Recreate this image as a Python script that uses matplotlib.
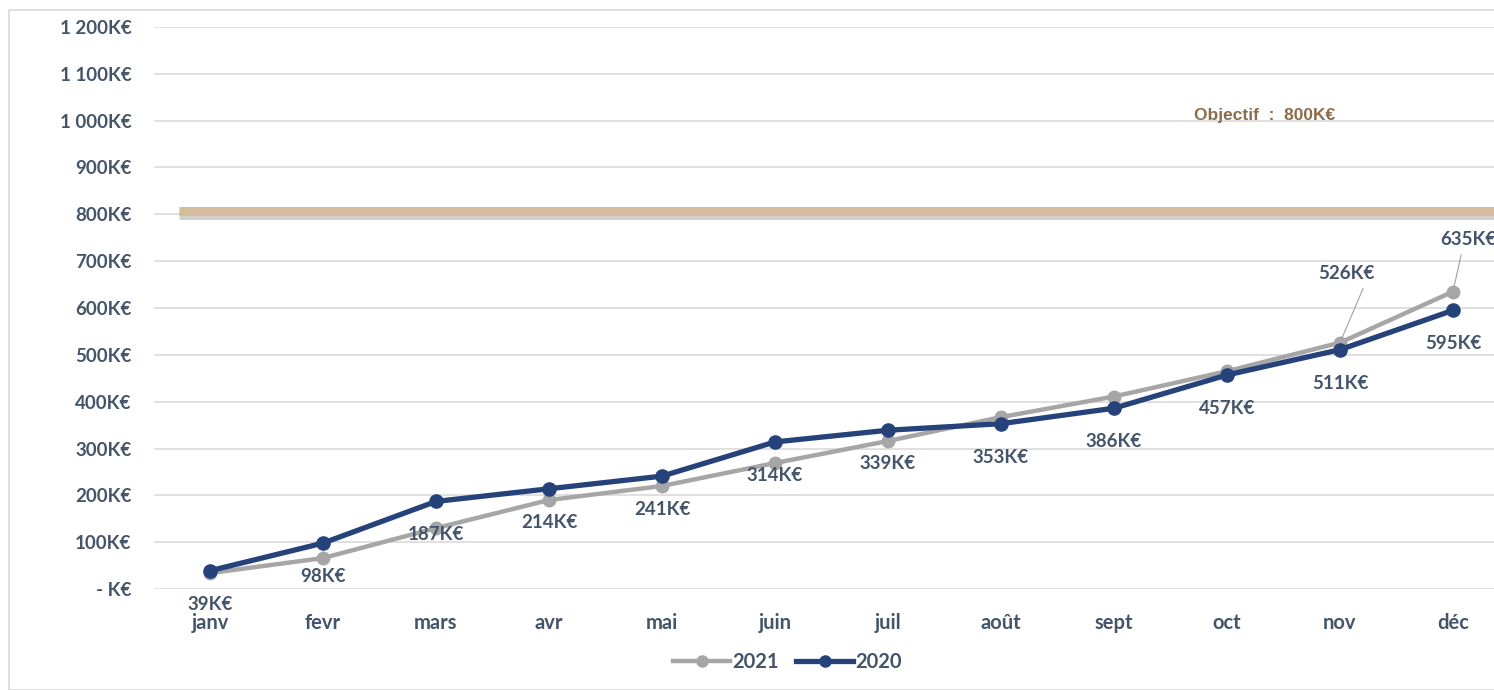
import numpy as np
import matplotlib
matplotlib.use("Agg")
import matplotlib.pyplot as plt
import matplotlib.patheffects as pe
from matplotlib.lines import Line2D
from matplotlib.patches import Rectangle

months = ['janv', 'fevr', 'mars', 'avr', 'mai', 'juin', 'juil', 'août',
          'sept', 'oct', 'nov', 'déc']
ca_2020 = [39, 98, 187, 214, 241, 314, 339, 353, 386, 457, 511, 595]
ca_2021 = [34, 66, 130, 190, 220, 269, 316, 367, 411, 465, 526, 635]
objectif = 800
yticks = [0, 100, 200, 300, 400, 500, 600, 700, 800, 900, 1000, 1100, 1200]

navy = '#26427A'
grey = '#A6A6A6'
txt = '#44546A'
tan = '#D5BC9C'


def fmt_k(v):
    if v == 0:
        return '- K€'
    return '{:,}K€'.format(v).replace(',', ' ')


plt.rcParams['font.family'] = ['Lato', 'DejaVu Sans']
fig = plt.figure(figsize=(14.94, 6.9), dpi=100)
fig.patches.append(Rectangle((9 / 1494, 0), 1.0, 1 - 10 / 690, transform=fig.transFigure,
                             fill=False, edgecolor='#D9D9D9', linewidth=1.2))

ax = fig.add_axes([153.5 / 1494, 101 / 690, 1356 / 1494, 562 / 690])
x = np.arange(len(months))

ax.set_xlim(-0.5, len(months) - 0.5)
ax.set_ylim(0, 1200)
ax.set_yticks(yticks)
ax.set_yticklabels([fmt_k(v) for v in yticks])
ax.set_xticks(x)
ax.set_xticklabels(months)
ax.tick_params(axis='y', length=0, pad=16, labelsize=13.5, labelcolor=txt)
ax.tick_params(axis='x', length=0, pad=17, labelsize=14.5, labelcolor=txt)
for lab in ax.get_yticklabels() + ax.get_xticklabels():
    lab.set_fontweight('bold')
for s in ax.spines.values():
    s.set_visible(False)
ax.grid(axis='y', color='#E0E0E0', linewidth=1.4)
ax.set_axisbelow(True)

# objective line
ax.plot([-0.27, len(months)], [objectif + 8, objectif + 8], color=tan, linewidth=6.5,
        solid_capstyle='butt', clip_on=False,
        path_effects=[pe.SimpleLineShadow(offset=(0, -3), shadow_color='#666666', alpha=0.3),
                      pe.Normal()])
ax.text(9.33, 1012, 'Objectif  :  800K€', color='#8C6D4B', fontsize=12.5,
        fontweight='bold', family=['Liberation Sans', 'DejaVu Sans'], ha='center', va='center')

ax.plot(x, ca_2021, color=grey, linewidth=3.2, marker='o', markersize=9, zorder=3)
ax.plot(x, ca_2020, color=navy, linewidth=3.8, marker='o', markersize=9.5, zorder=4)

for xi, v in zip(x, ca_2020):
    ax.annotate(fmt_k(v), (xi, v), xytext=(0, -24), textcoords='offset points',
                ha='center', va='center', color=txt, fontsize=13.5, fontweight='bold')

# 2021 labels with leader lines (last two months)
for xi, v, off, rp in [(10, ca_2021[10], (4.5, 50), (0.85, 0.0)),
                       (11, ca_2021[11], (11, 37.5), (0.4, 0.0))]:
    ax.annotate(fmt_k(v), (xi, v), xytext=off, textcoords='offset points',
                ha='center', va='center', color=txt, fontsize=13.5, fontweight='bold',
                annotation_clip=False,
                arrowprops=dict(arrowstyle='-', color='#A0A0A0', linewidth=0.8,
                                relpos=rp, shrinkA=3, shrinkB=3))

handles = [Line2D([], [], color=grey, linewidth=3.2, marker='o', markersize=8),
           Line2D([], [], color=navy, linewidth=3.8, marker='o', markersize=8)]
leg = fig.legend(handles, ['2021', '2020'], loc='center', bbox_to_anchor=(0.527, 0.04),
                 ncol=2, frameon=False, fontsize=14.5, handlelength=2.8,
                 handletextpad=0.1, columnspacing=0.9)
for t in leg.get_texts():
    t.set_color(txt)
    t.set_fontweight('bold')

fig.savefig('out.png', dpi=100)
